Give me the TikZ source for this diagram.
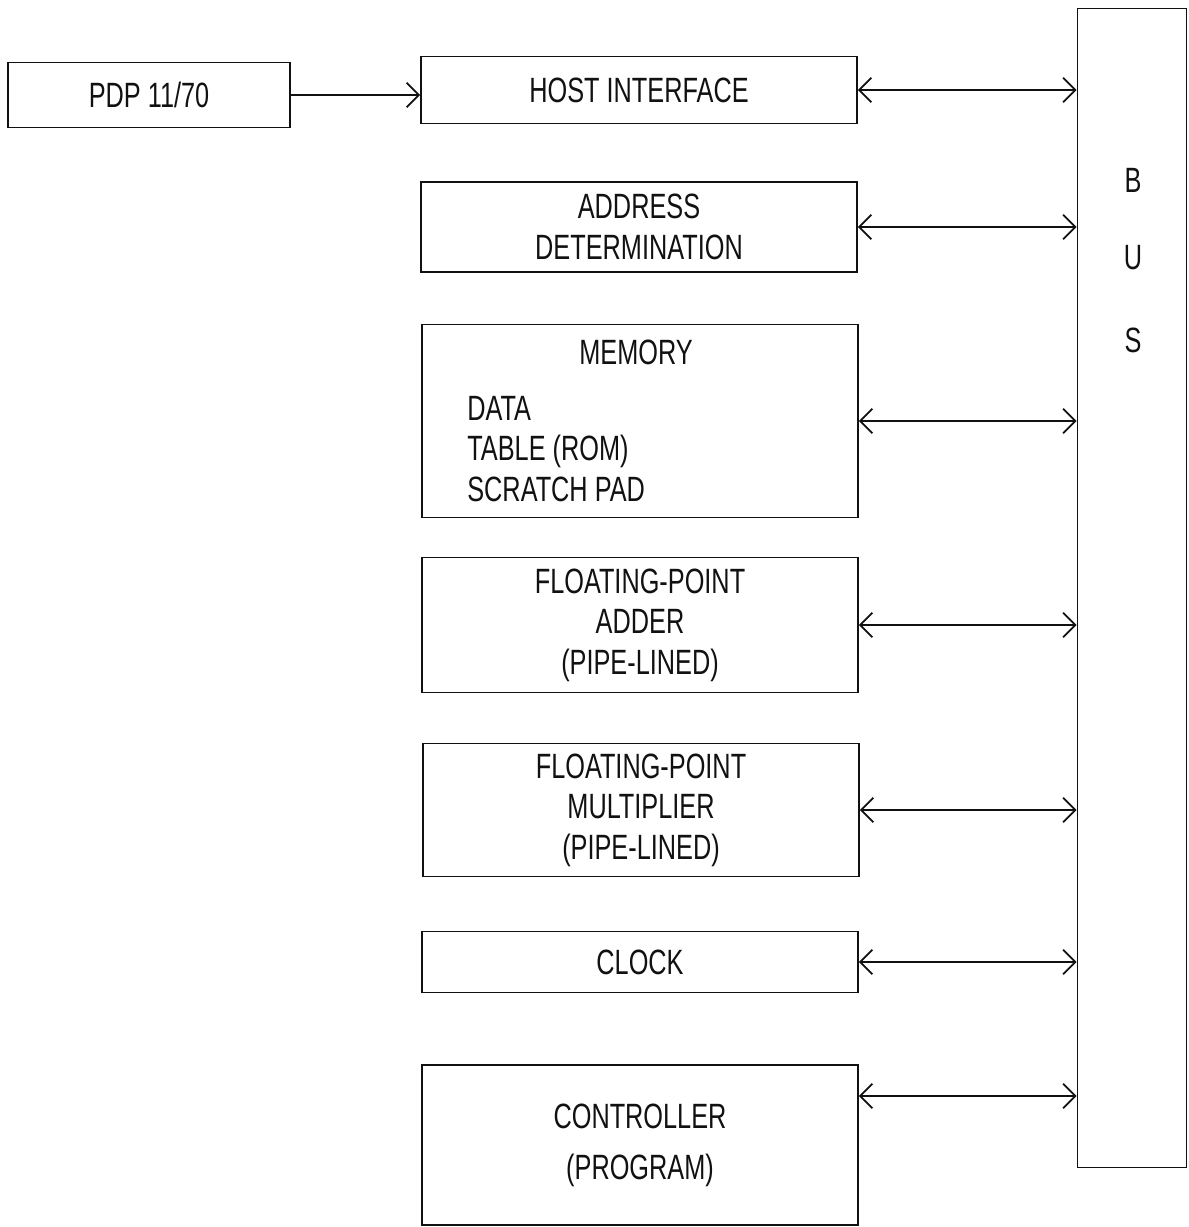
\documentclass[tikz,border=0pt]{standalone}
\usepackage{fontspec}
\usepackage{tikz}
\usetikzlibrary{arrows.meta,positioning,calc}
\newfontfamily\boxfont{Liberation Sans}[FakeStretch=0.72]
\definecolor{ink}{HTML}{111111}

\begin{document}
\begin{tikzpicture}[
  x=0.02cm, y=-0.02cm,
  every node/.style={font=\boxfont\fontsize{20}{23}\selectfont, text=ink},
  blk/.style={rectangle, draw=ink, line width=1pt, minimum width=8.72cm, inner sep=0pt},
  lbl/.style={align=center, inner sep=0pt},
  link/.style={draw=ink, line width=1pt, -{Straight Barb[length=7pt,width=14pt]}},
  bilink/.style={draw=ink, line width=1pt, {Straight Barb[length=7pt,width=14pt]}-{Straight Barb[length=7pt,width=14pt]}}
]
\useasboundingbox (0,0) rectangle (1189,1227);
% host and bus
\node[blk, minimum width=5.64cm, minimum height=1.3cm] (pdp) at (149,95) {PDP 11/70};
\node[rectangle, draw=ink, line width=1pt, minimum width=2.18cm, minimum height=23.18cm] (bus) at (1132,588) {};
\node[lbl] (busB) at (1133,180) {B};
\node[lbl] (busU) at (1133,258) {U};
\node[lbl] (busS) at (1133,340) {S};
% processor blocks
\node[blk, minimum height=1.34cm] (hostif) at (639,90) {HOST INTERFACE};
\node[blk, minimum height=1.8cm, lbl] (addr) at (639,227) {ADDRESS\\DETERMINATION};
\node[blk, minimum height=3.86cm] (mem) at (640,421) {};
\node[lbl] (memtitle) at (636,352) {MEMORY};
\node[lbl, align=left, anchor=west] (memlist) at (467,449) {DATA\\TABLE (ROM)\\SCRATCH PAD};
\node[blk, minimum height=2.7cm, lbl] (fpadd) at (640,625) {FLOATING-POINT\\ADDER\\(PIPE-LINED)};
\node[blk, minimum height=2.66cm, lbl] (fpmul) at (641,810) {FLOATING-POINT\\MULTIPLIER\\(PIPE-LINED)};
\node[blk, minimum height=1.22cm] (clock) at (640,962) {CLOCK};
\node[blk, minimum height=3.2cm, lbl] (ctrl) at (640,1145) {CONTROLLER\\[6pt](PROGRAM)};
% connectors
\draw[link] (pdp.east) -- (pdp.east -| hostif.west);
\draw[bilink] (hostif.east) -- (hostif.east -| bus.west);
\draw[bilink] (addr.east) -- (addr.east -| bus.west);
\draw[bilink] (mem.east) -- (mem.east -| bus.west);
\draw[bilink] (fpadd.east) -- (fpadd.east -| bus.west);
\draw[bilink] (fpmul.east) -- (fpmul.east -| bus.west);
\draw[bilink] (clock.east) -- (clock.east -| bus.west);
\draw[bilink] ([yshift=0.98cm]ctrl.east) -- ([yshift=0.98cm]ctrl.east -| bus.west);
\end{tikzpicture}
\end{document}
